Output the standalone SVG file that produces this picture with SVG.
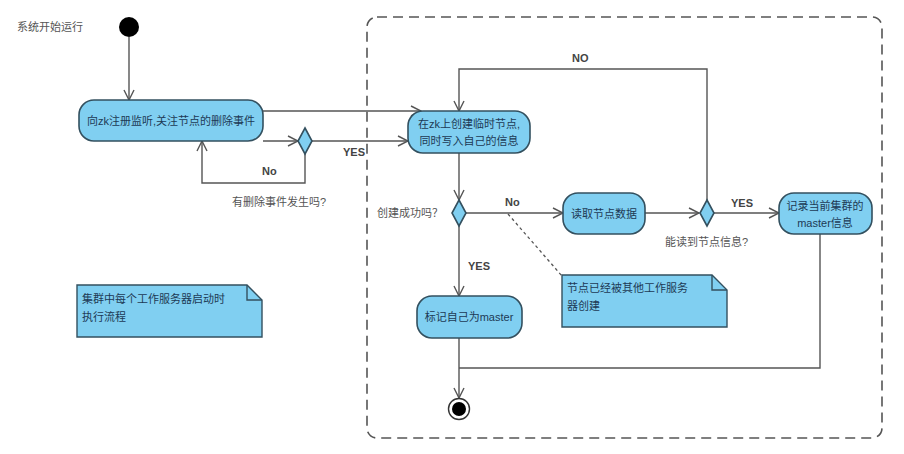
<svg xmlns="http://www.w3.org/2000/svg" width="904" height="454" viewBox="0 0 904 454">
<defs>
<style>
.node{fill:#80cff1;stroke:#33505f;stroke-width:1.6}
.note{fill:#80cff1;stroke:#33505f;stroke-width:1.4}
.ntext{font-family:"Liberation Sans","Noto Sans CJK SC",sans-serif;font-size:11px;fill:#1d3a55}
.lbl{font-family:"Liberation Sans","Noto Sans CJK SC",sans-serif;font-size:11px;fill:#555}
.yn{font-family:"Liberation Sans",sans-serif;font-size:11px;font-weight:bold;fill:#444}
.conn{fill:none;stroke:#555;stroke-width:1.4}
</style>
<marker id="arr" viewBox="0 0 12 12" refX="11" refY="6" markerWidth="12" markerHeight="12" markerUnits="userSpaceOnUse" orient="auto">
<path d="M1,1 L11,6 L1,11" fill="none" stroke="#555" stroke-width="1.4"/>
</marker>
</defs>
<rect width="904" height="454" fill="#ffffff"/>
<rect id="frame" x="367" y="17" width="515" height="421" rx="10" fill="none" stroke="#555" stroke-width="1.6" stroke-dasharray="10 6"/>
<text class="lbl" x="17" y="31">系统开始运行</text>
<g id="connectors">
<line class="conn" x1="129" y1="37" x2="129" y2="100" marker-end="url(#arr)"/>
<line class="conn" x1="263" y1="111" x2="421" y2="111" marker-end="url(#arr)"/>
<line class="conn" x1="263" y1="141" x2="298" y2="141" marker-end="url(#arr)"/>
<polyline class="conn" points="305,154 305,183 202,183 202,141" marker-end="url(#arr)"/>
<line class="conn" x1="312" y1="141" x2="408" y2="141" marker-end="url(#arr)"/>
<line class="conn" x1="459" y1="153" x2="459" y2="200" marker-end="url(#arr)"/>
<line class="conn" x1="466" y1="213" x2="563" y2="213" marker-end="url(#arr)"/>
<line class="conn" x1="459" y1="226" x2="459" y2="296" marker-end="url(#arr)"/>
<line class="conn" x1="645" y1="213" x2="699" y2="213" marker-end="url(#arr)"/>
<polyline class="conn" points="707,200 707,69 459,69 459,111" marker-end="url(#arr)"/>
<line class="conn" x1="714" y1="213" x2="779" y2="213" marker-end="url(#arr)"/>
<polyline class="conn" points="820,234 820,368 459,368"/>
<line class="conn" x1="459" y1="338" x2="459" y2="398" marker-end="url(#arr)"/>
<line x1="508" y1="214" x2="562" y2="276" stroke="#555" stroke-width="1.3" stroke-dasharray="3 3"/>
<text class="yn" x="262" y="175">No</text>
<text class="yn" x="343" y="156">YES</text>
<text class="yn" x="572" y="62">NO</text>
<text class="yn" x="505" y="206">No</text>
<text class="yn" x="468" y="270">YES</text>
<text class="yn" x="731" y="207">YES</text>
<text class="lbl" x="232" y="206">有删除事件发生吗?</text>
<text class="lbl" x="377" y="217">创建成功吗？</text>
<text class="lbl" x="665" y="246">能读到节点信息?</text>
</g>
<g id="start"><circle cx="129" cy="27" r="10" fill="#000"/></g>
<g id="n1"><rect class="node" x="79" y="100" width="184" height="41" rx="15"/>
<text class="ntext" x="171" y="125" text-anchor="middle">向zk注册监听,关注节点的删除事件</text></g>
<g id="d1"><polygon class="node" points="305,128 312,141 305,154 298,141"/></g>
<g id="n2"><rect class="node" x="408" y="111" width="122" height="42" rx="15"/>
<text class="ntext" x="469" y="128" text-anchor="middle">在zk上创建临时节点,</text>
<text class="ntext" x="469" y="145" text-anchor="middle">同时写入自己的信息</text></g>
<g id="d2"><polygon class="node" points="459,200 466,213 459,226 452,213"/></g>
<g id="n3"><rect class="node" x="563" y="193" width="82" height="41" rx="15"/>
<text class="ntext" x="604" y="218" text-anchor="middle">读取节点数据</text></g>
<g id="d3"><polygon class="node" points="707,200 714,213 707,226 700,213"/></g>
<g id="n4"><rect class="node" x="779" y="193" width="93" height="41" rx="15"/>
<text class="ntext" x="825" y="210" text-anchor="middle">记录当前集群的</text>
<text class="ntext" x="825" y="227" text-anchor="middle">master信息</text></g>
<g id="n5"><rect class="node" x="417" y="296" width="105" height="42" rx="15"/>
<text class="ntext" x="469" y="321" text-anchor="middle">标记自己为master</text></g>
<g id="end"><circle cx="459" cy="409" r="10.5" fill="#fff" stroke="#333" stroke-width="1.4"/><circle cx="459" cy="409" r="7" fill="#000"/></g>
<g id="note1"><path class="note" d="M77,285 L247,285 L262,300 L262,337 L77,337 Z"/>
<path d="M247,285 L247,300 L262,300" fill="none" stroke="#33505f" stroke-width="1.4"/>
<text class="ntext" x="82" y="303">集群中每个工作服务器启动时</text>
<text class="ntext" x="82" y="321">执行流程</text></g>
<g id="note2"><path class="note" d="M562,275 L712,275 L727,290 L727,327 L562,327 Z"/>
<path d="M712,275 L712,290 L727,290" fill="none" stroke="#33505f" stroke-width="1.4"/>
<text class="ntext" x="567" y="292">节点已经被其他工作服务</text>
<text class="ntext" x="567" y="310">器创建</text></g>
</svg>
